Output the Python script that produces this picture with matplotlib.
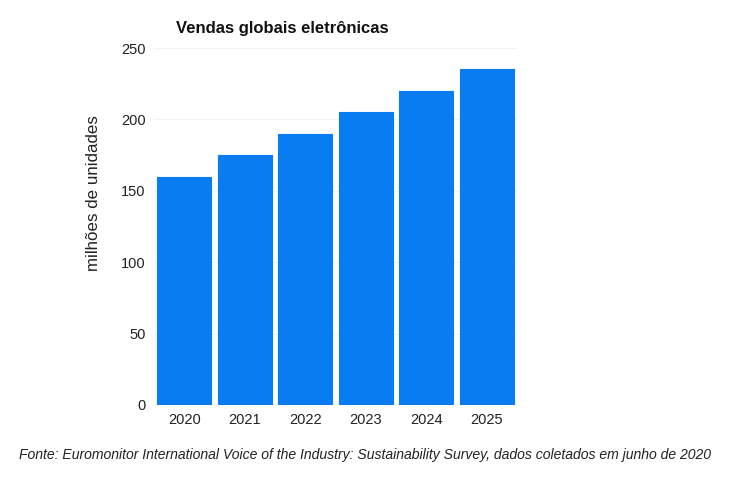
import matplotlib
matplotlib.use("Agg")
import matplotlib.pyplot as plt

anos = ["2020", "2021", "2022", "2023", "2024", "2025"]
vendas = [160, 175, 190, 205, 220, 235]
yticks = [0, 50, 100, 150, 200, 250]

plt.rcParams["font.family"] = ["Liberation Sans", "DejaVu Sans"]

fig = plt.figure(figsize=(7.3, 4.83), dpi=100)
ax = fig.add_axes([154 / 730, 1 - 405 / 483, 363 / 730, 357 / 483])

ax.bar(range(len(anos)), vendas, width=0.9, color="#0a7cf2",
       edgecolor="#0a7cf2", linewidth=0.8, joinstyle="round", zorder=3)

ax.set_xlim(-0.5, len(anos) - 0.5)
ax.set_ylim(0, 250)
ax.set_yticks(yticks)
ax.set_xticks(range(len(anos)))
ax.set_xticklabels(anos)
ax.tick_params(length=0, labelsize=10.5, colors="#222222", pad=6)
ax.grid(axis="y", color="#f2f2f2", linewidth=0.8, zorder=0)
for s in ax.spines.values():
    s.set_visible(False)

fig.text(176 / 730, 1 - 28 / 483, "Vendas globais eletrônicas",
         fontsize=12, fontweight="bold", ha="left", va="center", color="#111111")
fig.text(93 / 730, 1 - 193 / 483, "milhões de unidades", rotation=90,
         fontsize=12.2, ha="center", va="center", color="#222222")
fig.text(365 / 730, 1 - 455 / 483,
         "Fonte: Euromonitor International Voice of the Industry: Sustainability Survey, dados coletados em junho de 2020",
         fontsize=10.1, style="italic", ha="center", va="center", color="#222222")

fig.savefig("out.png", dpi=100)
